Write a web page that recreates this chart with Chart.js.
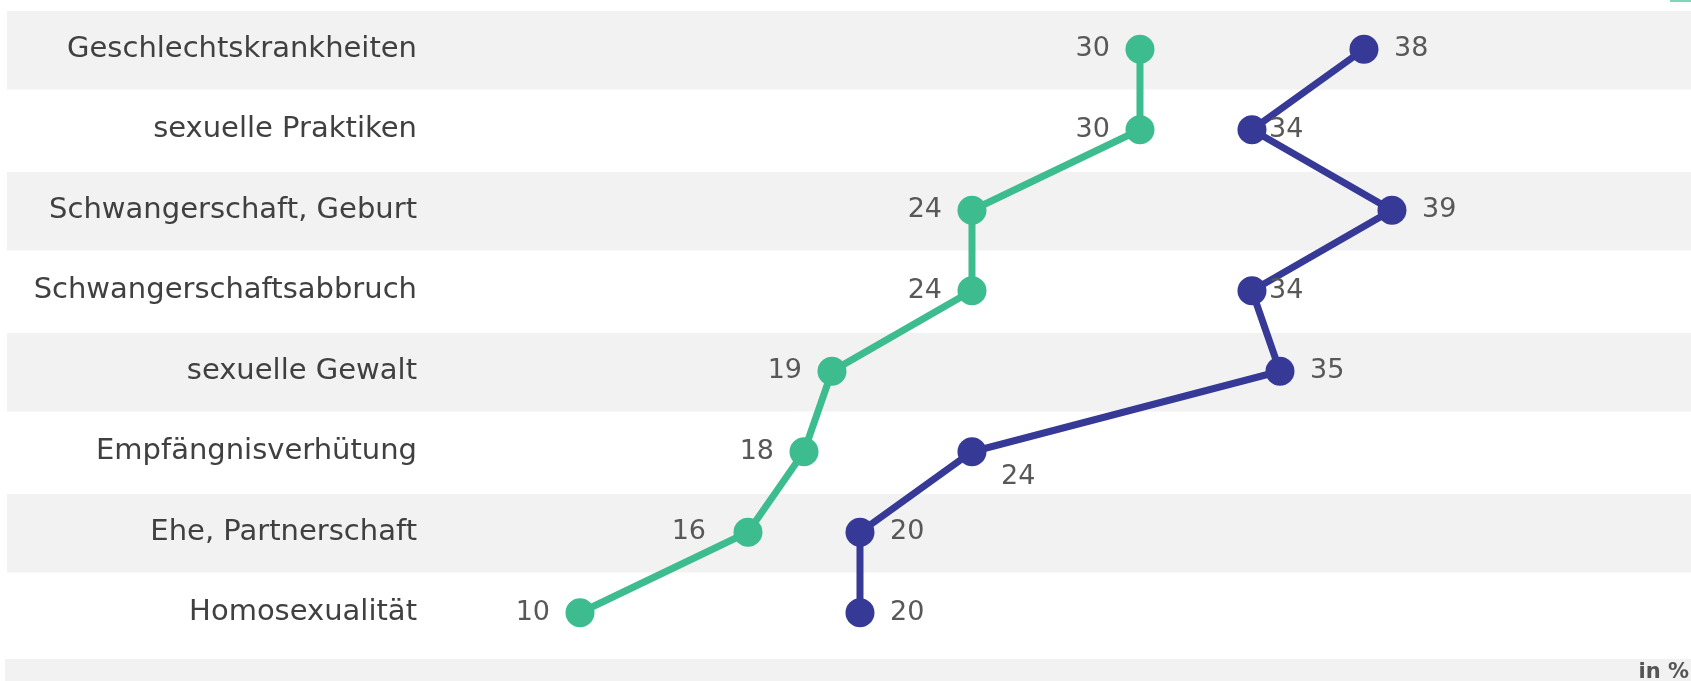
<!DOCTYPE html>
<html lang="de">
<head>
<meta charset="utf-8">
<title>Themen in %</title>
<script src="https://cdn.jsdelivr.net/npm/chart.js@4.4.1/dist/chart.umd.min.js"></script>
<style>
    html, body {
        margin: 0;
        padding: 0;
        background: #ffffff;
    }
    #wrap {
        position: relative;
        width: 1691px;
        height: 681px;
    }
</style>
</head>
<body>
<div id="wrap"><canvas id="themenChart" width="1691" height="681"></canvas></div>
<script>
// Topics, top to bottom
const themen = [
    "Geschlechtskrankheiten",
    "sexuelle Praktiken",
    "Schwangerschaft, Geburt",
    "Schwangerschaftsabbruch",
    "sexuelle Gewalt",
    "Empfängnisverhütung",
    "Ehe, Partnerschaft",
    "Homosexualität",
];

// Shares in percent
const werteGruen = [30, 30, 24, 24, 19, 18, 16, 10];
const werteBlau = [38, 34, 39, 34, 35, 24, 20, 20];

const GRUEN = "#3dbc8f";
const BLAU = "#363a96";
const FONT = "'DejaVu Sans', Verdana, sans-serif";

// label placement: green to the left, blue to the right, a few nudged
const labelGap = 30;
const labelSide = [-1, 1];
const labelNudge = [
    { 6: [12, 0] },
    { 1: [-13, 0], 3: [-13, 0], 5: [-1, 25] },
];

// Alternating row shading plus the footer strip
const rowBands = {
    id: "rowBands",
    beforeDraw(chart) {
        const { ctx, scales } = chart;
        const y = scales.y;
        const step = y.getPixelForValue(1) - y.getPixelForValue(0);
        ctx.save();
        ctx.fillStyle = "#f2f2f2";
        themen.forEach((_, i) => {
            if (i % 2 === 0) {
                const c = y.getPixelForValue(i);
                ctx.fillRect(7, c - step / 2 + 2, chart.width - 7, step - 2);
            }
        });
        ctx.fillRect(5, 659, chart.width - 5, chart.height - 659);
        ctx.fillStyle = "#7fd6b8";
        ctx.fillRect(1670, 0, 21, 2);
        ctx.restore();
    },
    afterDraw(chart) {
        const ctx = chart.ctx;
        ctx.save();
        ctx.font = "bold 21px " + FONT;
        ctx.fillStyle = "#555555";
        ctx.textAlign = "right";
        ctx.textBaseline = "alphabetic";
        ctx.fillText("in %", 1689, 678);
        ctx.restore();
    },
};

// Value labels beside each point
const valueLabels = {
    id: "valueLabels",
    afterDatasetsDraw(chart) {
        const ctx = chart.ctx;
        ctx.save();
        ctx.font = "27px " + FONT;
        ctx.fillStyle = "#585858";
        ctx.textBaseline = "middle";
        chart.data.datasets.forEach((ds, di) => {
            const meta = chart.getDatasetMeta(di);
            const side = labelSide[di];
            meta.data.forEach((pt, i) => {
                const extra = labelNudge[di][i] || [0, 0];
                const dx = (labelGap + extra[0]) * side;
                ctx.textAlign = side < 0 ? "right" : "left";
                ctx.fillText(String(ds.data[i]), pt.x + dx, pt.y + extra[1]);
            });
        });
        ctx.restore();
    },
};

const ctx = document.getElementById("themenChart").getContext("2d");
const themenChart = new Chart(ctx, {
    type: "line",
    data: {
        labels: themen,
        datasets: [
            {
                label: "gruen",
                data: werteGruen,
                borderColor: GRUEN,
                backgroundColor: GRUEN,
                pointBackgroundColor: GRUEN,
                pointBorderColor: GRUEN,
                borderWidth: 7,
                pointRadius: 14.5,
                pointBorderWidth: 0,
                tension: 0,
                fill: false,
            },
            {
                label: "blau",
                data: werteBlau,
                borderColor: BLAU,
                backgroundColor: BLAU,
                pointBackgroundColor: BLAU,
                pointBorderColor: BLAU,
                borderWidth: 7,
                pointRadius: 14.5,
                pointBorderWidth: 0,
                tension: 0,
                fill: false,
            },
        ],
    },
    options: {
        indexAxis: "y",
        responsive: false,
        animation: false,
        layout: {
            autoPadding: false,
            padding: { top: 9, bottom: 28, left: 0, right: 0 },
        },
        plugins: {
            legend: { display: false },
            tooltip: { enabled: false },
        },
        scales: {
            x: {
                type: "linear",
                min: 5,
                max: 49.68,
                display: false,
            },
            y: {
                type: "category",
                offset: true,
                grid: { display: false, drawTicks: false },
                border: { display: false },
                ticks: {
                    autoSkip: false,
                    padding: 23,
                    color: "#404040",
                    font: { family: FONT, size: 29 },
                },
                afterFit(scale) {
                    scale.width = 440;
                    scale.paddingTop = 0;
                    scale.paddingBottom = 0;
                },
            },
        },
    },
    plugins: [rowBands, valueLabels],
});
</script>
</body>
</html>
